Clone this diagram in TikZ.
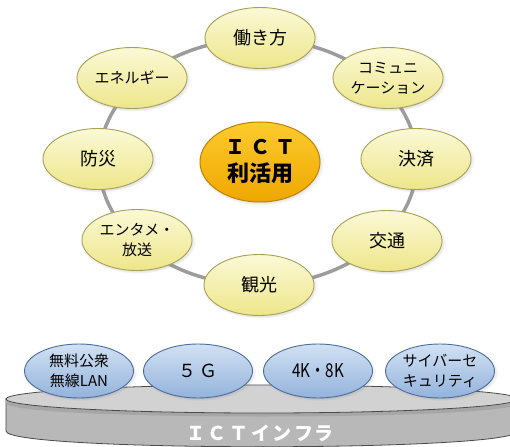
\documentclass[tikz,border=0pt]{standalone}
\usepackage{fontspec}
\setmainfont{Noto Sans CJK JP}
\usetikzlibrary{shapes.geometric,shadows}
\definecolor{ringgray}{HTML}{9C9C9C}
\definecolor{ylwtop}{HTML}{FBF9D6}
\definecolor{ylwbot}{HTML}{EEE68A}
\definecolor{ylwedge}{HTML}{A6A058}
\definecolor{orgtop}{HTML}{FCCB2E}
\definecolor{orgbot}{HTML}{EFA700}
\definecolor{orgedge}{HTML}{BE8200}
\definecolor{blutop}{HTML}{D2E1F3}
\definecolor{blubot}{HTML}{93B3DC}
\definecolor{bluedge}{HTML}{4C6C9C}
\definecolor{cyltop}{HTML}{D2D2D2}
\definecolor{cylside}{HTML}{B8B8B8}
\definecolor{cyledge}{HTML}{4A4A4A}
\tikzset{
  bub/.style={ellipse, inner sep=0pt, align=center, text=black,
    circular drop shadow={shadow xshift=1pt, shadow yshift=-1.5pt, shadow scale=1.05, opacity=0.35}},
  ybub/.style={bub, minimum width=110pt, minimum height=61pt,
    top color=ylwtop, bottom color=ylwbot, draw=ylwedge, line width=0.9pt},
  cbub/.style={bub, minimum width=120pt, minimum height=80pt,
    top color=orgtop, bottom color=orgbot, draw=orgedge, line width=1pt},
  bbub/.style={bub, minimum width=109pt, minimum height=54pt,
    top color=blutop, bottom color=blubot, draw=bluedge, line width=0.9pt},
  big/.style={font=\fontsize{18}{22}\selectfont},
  small/.style={font=\fontsize{15}{20}\selectfont},
}
\begin{document}
\begin{tikzpicture}[x=1pt,y=-1pt]
\useasboundingbox (0,0) rectangle (510,446);
\fill[white] (0,0) rectangle (510,446);
% ring
\draw[ringgray, line width=3.5pt] (258,162) ellipse [x radius=159, y radius=123];
% outer nodes
\node[ybub, big] (work) at (260,38) {働き方};
\node[ybub, small] (energy) at (132,78) {エネルギー};
\node[ybub, small] (comm) at (388,78) {コミュニ\\ケーション};
\node[ybub, big] (disaster) at (98,159) {防災};
\node[ybub, big] (payment) at (416,159) {決済};
\node[ybub, small] (enter) at (137,240) {エンタメ・\\放送};
\node[ybub, big] (traffic) at (387,241) {交通};
\node[ybub, big] (tour) at (259,285) {観光};
% center
\node[cbub, font=\bfseries\fontsize{20}{27}\selectfont] (ict) at (260,162)
  {Ｉ\kern5pt Ｃ\kern5pt Ｔ\\{\fontsize{22}{27}\selectfont 利活用}};
% platform
\path[fill=cylside, draw=cyledge, line width=0.8pt] (6,399) -- (6,431)
  .. controls (6,452) and (518,452) .. (518,431) -- (518,399) -- cycle;
\fill[black!35] (6,399) .. controls (6,417) and (518,417) .. (518,399)
  -- (518,403) .. controls (518,421) and (6,421) .. (6,403) -- cycle;
\draw[fill=cyltop, draw=cyledge, line width=0.8pt] (262,399) ellipse [x radius=256, y radius=14];
\node[text=white, font=\bfseries\fontsize{19}{22}\selectfont] (infra) at (260,433)
  {Ｉ\kern3pt Ｃ\kern3pt Ｔ\kern3pt イ\kern2pt ン\kern2pt フ\kern2pt ラ};
% infra bubbles
\node[bbub, small] (wifi) at (79,371) {無料公衆\\無線LAN};
\node[bbub, font=\fontsize{18}{22}\selectfont] (fiveg) at (198,371) {５\kern3pt Ｇ};
\node[bbub, font=\fontsize{19}{22}\selectfont] (k48) at (318,371) {\scalebox{0.8}[1]{4K・8K}};
\node[bbub, small] (cyber) at (440,371) {サイバーセ\\キュリティ};
\end{tikzpicture}
\end{document}
